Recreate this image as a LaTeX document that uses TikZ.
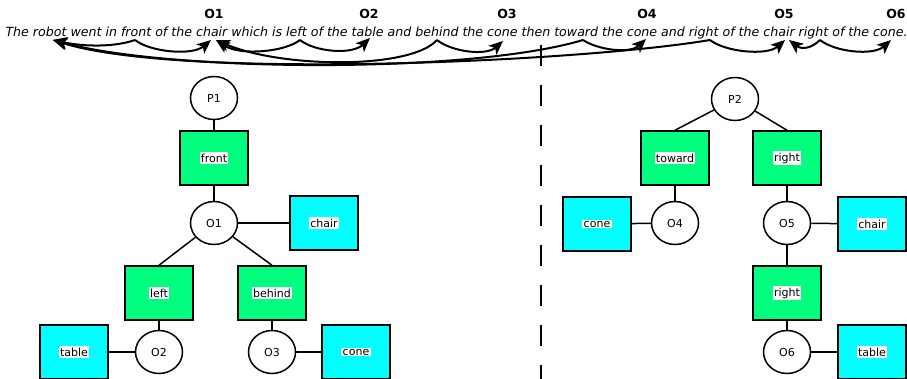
\documentclass[tikz,border=0pt]{standalone}
\usepackage{fontspec}
\setmainfont{DejaVu Sans}[ItalicFont={DejaVu Sans Oblique},BoldFont={DejaVu Sans Bold}]
\usetikzlibrary{shapes.geometric,arrows.meta}
\definecolor{sgreen}{RGB}{0,255,127}
\definecolor{scyan}{RGB}{0,255,255}
\begin{document}
\begin{tikzpicture}[x=1pt,y=-1pt,
 every node/.style={inner sep=0pt},
 lab/.style={fill=white,inner sep=1.3pt,font=\fontsize{11}{12}\selectfont},
 rbox/.style={rectangle,draw,line width=1.5pt,minimum width=68pt,minimum height=54pt,label={[lab]center:#1}},
 gbox/.style={rbox=#1,fill=sgreen},
 cbox/.style={rbox=#1,fill=scyan},
 ell/.style={ellipse,draw,line width=1.5pt,minimum width=47pt,minimum height=43pt,font=\fontsize{11}{12}\selectfont},
 tline/.style={line width=1.5pt},
 dep/.style={line width=2pt,-{Stealth[length=14pt,width=12pt,inset=3.5pt]}},
 olab/.style={font=\bfseries\fontsize{12.5}{13}\selectfont}]
\useasboundingbox (0,0) rectangle (907,379);
% sentence and object labels
\node (sent) at (456.5,33) {\itshape\fontsize{12.6}{13}\selectfont The robot went in front of the chair which is left of the table and behind the cone then toward the cone and right of the chair right of the cone.};
\node[olab] (L1) at (214,14) {O1};
\node[olab] (L2) at (369,14) {O2};
\node[olab] (L3) at (507,14) {O3};
\node[olab] (L4) at (647,14) {O4};
\node[olab] (L5) at (784,14) {O5};
\node[olab] (L6) at (896,14) {O6};
% left tree
\node[ell] (P1) at (214,98) {P1};
\node[gbox=front] (front) at (214,158) {};
\node[ell] (O1) at (214,223) {O1};
\node[cbox=chair] (chairL) at (324,223) {};
\node[gbox=left] (left) at (159,293) {};
\node[gbox=behind] (behind) at (272,293) {};
\node[ell] (O2) at (159,352) {O2};
\node[ell] (O3) at (272,352) {O3};
\node[cbox=table] (tableL) at (74,352) {};
\node[cbox=cone] (coneL) at (356,352) {};
% right tree
\node[ell] (P2) at (735,99) {P2};
\node[gbox=toward] (toward) at (675,158) {};
\node[gbox=right] (rightA) at (787,158) {};
\node[ell] (O4) at (675,223) {O4};
\node[cbox=cone] (coneR) at (597,224) {};
\node[ell] (O5) at (787,223) {O5};
\node[cbox=chair] (chairR) at (872,224) {};
\node[gbox=right] (rightB) at (787,293) {};
\node[ell] (O6) at (787,352) {O6};
\node[cbox=table] (tableR) at (872,352) {};
% tree edges
\draw[tline] (P1) -- (front);
\draw[tline] (front) -- (O1);
\draw[tline] (O1) -- (chairL);
\draw[tline] (O1) -- (left.north);
\draw[tline] (O1) -- (behind.north);
\draw[tline] (left) -- (O2);
\draw[tline] (behind) -- (O3);
\draw[tline] (tableL) -- (O2);
\draw[tline] (O3) -- (coneL);
\draw[tline] (P2) -- (toward.north);
\draw[tline] (P2) -- (rightA.north);
\draw[tline] (toward) -- (O4);
\draw[tline] (coneR) -- (O4);
\draw[tline] (rightA) -- (O5);
\draw[tline] (O5) -- (chairR);
\draw[tline] (O5) -- (rightB);
\draw[tline] (rightB) -- (O6);
\draw[tline] (O6) -- (tableR);
% divider
\coordinate (dtop) at (541,45);
\coordinate (dbot) at (541,379);
\draw[line width=1.8pt,dash pattern=on 21pt off 19pt] (dtop) -- (dbot);
% word anchors
\coordinate (wrobot) at (53,40);
\coordinate (wfront) at (135,40);
\coordinate (wchairA) at (211,40);
\coordinate (wchairB) at (216,40);
\coordinate (wleft) at (300,40);
\coordinate (wtable) at (370,38);
\coordinate (wbehind) at (437,40);
\coordinate (wcone1) at (503,41);
\coordinate (wtoward) at (583,40);
\coordinate (wcone2) at (646,39);
\coordinate (wright) at (710,40);
\coordinate (wchairC) at (785,40);
\coordinate (wchairD) at (789,40);
\coordinate (wright2) at (820,40);
\coordinate (wcone3) at (891,40);
% dependency braces
\draw[dep] (wfront) .. controls (115,47) and (85,47) .. (wrobot);
\draw[dep] (wfront) .. controls (150,52) and (192,56) .. (wchairA);
\draw[dep] (wleft) .. controls (285,52) and (240,56) .. (wchairB);
\draw[dep] (wleft) .. controls (315,52) and (352,55) .. (wtable);
\draw[dep] (wbehind) .. controls (410,70) and (280,68) .. (wchairB);
\draw[dep] (wbehind) .. controls (452,52) and (486,56) .. (wcone1);
\draw[dep] (wtoward) .. controls (470,74) and (170,72) .. (wrobot);
\draw[dep] (wtoward) .. controls (598,50) and (630,54) .. (wcone2);
\draw[dep] (wright) .. controls (580,62) and (180,80) .. (wrobot);
\draw[dep] (wright) .. controls (725,52) and (767,56) .. (wchairC);
\draw[dep] (wright2) .. controls (812,48) and (802,50) .. (wchairD);
\draw[dep] (wright2) .. controls (835,52) and (873,56) .. (wcone3);
\end{tikzpicture}
\end{document}
